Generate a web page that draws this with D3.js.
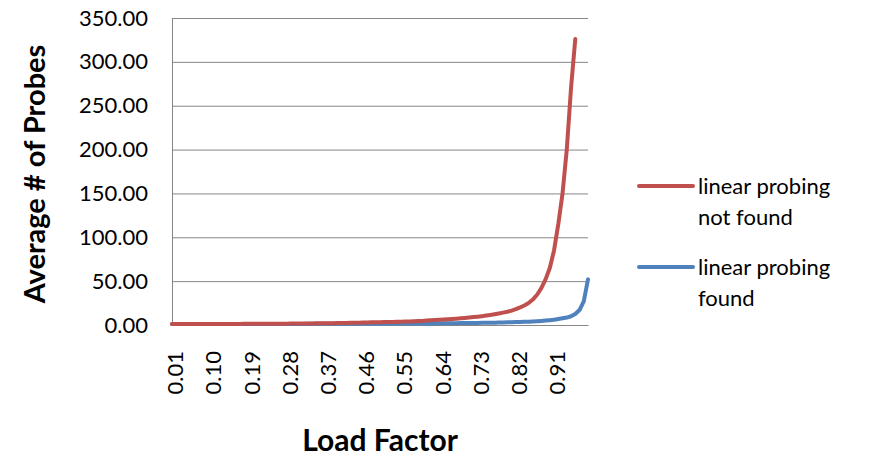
<!DOCTYPE html>
<html>
<head>
<meta charset="utf-8">
<script src="https://cdn.jsdelivr.net/npm/d3@7"></script>
<style>
  body { margin: 0; background: #fff; }
  text { font-family: Lato, "Open Sans", sans-serif; fill: #000; }
</style>
</head>
<body>
<div id="chart"></div>
<script>
// load factors 0.01 .. 0.99
const loadFactors = d3.range(1, 100).map(i => (i / 100).toFixed(2));

// average probes, unsuccessful search (0.01 .. 0.96, no data after)
const notFound = [
    1.0, 1.0, 1.0, 1.0, 1.1, 1.1, 1.1, 1.1, 1.1, 1.1,
    1.1, 1.2, 1.2, 1.2, 1.2, 1.2, 1.2, 1.3, 1.3, 1.3,
    1.3, 1.3, 1.4, 1.4, 1.4, 1.5, 1.5, 1.5, 1.6, 1.6,
    1.7, 1.7, 1.8, 1.8, 1.9, 1.9, 2.0, 2.0, 2.1, 2.2,
    2.3, 2.4, 2.5, 2.6, 2.7, 2.8, 2.9, 3.0, 3.1, 3.2,
    3.3, 3.4, 3.5, 3.7, 3.8, 4.0, 4.1, 4.3, 4.5, 4.7,
    5.0, 5.3, 5.6, 5.9, 6.2, 6.5, 6.9, 7.2, 7.6, 8.0,
    8.5, 9.0, 9.5, 10.1, 10.8, 11.5, 12.3, 13.2, 14.1, 15.1,
    16.4, 18.0, 20.0, 22.3, 25.0, 29.0, 34.5, 42.0, 52.0, 65.0,
    85.0, 115.0, 150.0, 200.0, 270.0, 326.0
];

// average probes, successful search (0.01 .. 0.99)
const found = [
    1.0, 1.0, 1.0, 1.0, 1.0, 1.0, 1.0, 1.0, 1.0, 1.1,
    1.1, 1.1, 1.1, 1.1, 1.1, 1.1, 1.1, 1.1, 1.1, 1.1,
    1.1, 1.1, 1.2, 1.2, 1.2, 1.2, 1.2, 1.2, 1.2, 1.2,
    1.2, 1.2, 1.3, 1.3, 1.3, 1.3, 1.3, 1.3, 1.3, 1.3,
    1.3, 1.4, 1.4, 1.4, 1.4, 1.4, 1.4, 1.5, 1.5, 1.5,
    1.5, 1.5, 1.6, 1.6, 1.6, 1.6, 1.7, 1.7, 1.7, 1.8,
    1.8, 1.8, 1.9, 1.9, 2.0, 2.0, 2.0, 2.1, 2.2, 2.2,
    2.3, 2.3, 2.4, 2.5, 2.6, 2.6, 2.7, 2.8, 2.9, 3.0,
    3.1, 3.3, 3.4, 3.6, 3.8, 4.0, 4.3, 4.6, 5.0, 5.5,
    6.1, 6.8, 7.6, 8.5, 10.0, 12.5, 17.0, 27.0, 52.0
];

const yTicks = [0, 50, 100, 150, 200, 250, 300, 350];
const seriesNames = ["linear probing not found", "linear probing found"];
const seriesColors = ["#C0504D", "#4F81BD"];

const width = 869, height = 458;
const margin = { top: 18, right: 281, bottom: 133, left: 172 };
const plotW = width - margin.left - margin.right;
const plotH = height - margin.top - margin.bottom;

const svg = d3.select("#chart").append("svg")
    .attr("width", width)
    .attr("height", height);

const g = svg.append("g")
    .attr("transform", "translate(" + margin.left + "," + margin.top + ")");

const x = d3.scalePoint().domain(loadFactors).range([0, plotW]);
const y = d3.scaleLinear().domain([0, 350]).range([plotH, 0]);

// gridlines + y labels
const yAxis = d3.axisLeft(y)
    .tickValues(yTicks)
    .tickFormat(d3.format(".2f"))
    .tickSize(-plotW)
    .tickPadding(24);

g.append("g")
    .call(yAxis)
    .call(a => a.select(".domain").attr("stroke", "#868686"))
    .call(a => a.selectAll(".tick line").attr("stroke", "#868686"))
    .call(a => a.selectAll(".tick text")
        .style("font-size", "22px")
        .attr("fill", "#000"));

// x axis (labels every 9th category)
const xAxis = d3.axisBottom(x)
    .tickValues(loadFactors.filter((d, i) => i % 9 === 0))
    .tickSize(0);

g.append("g")
    .attr("transform", "translate(0," + plotH + ")")
    .call(xAxis)
    .call(a => a.select(".domain").attr("stroke", "#868686"))
    .call(a => a.selectAll(".tick text")
        .style("font-size", "22px")
        .attr("fill", "#000")
        .attr("text-anchor", "end")
        .attr("transform", "rotate(-90)")
        .attr("x", -26)
        .attr("y", 3)
        .attr("dy", "0.35em"));

const line = d3.line()
    .defined(d => d.v != null)
    .x(d => x(d.k))
    .y(d => y(d.v));

// found drawn first so the not-found line sits on top where they overlap
[[found, 1], [notFound, 0]].forEach(([vals, s]) => {
    const pts = loadFactors.map((k, i) => ({ k: k, v: vals[i] != null ? vals[i] : null }));
    g.append("path")
        .datum(pts)
        .attr("fill", "none")
        .attr("stroke", seriesColors[s])
        .attr("stroke-width", 4)
        .attr("stroke-linecap", "round")
        .attr("stroke-linejoin", "round")
        .attr("d", line);
});

// axis titles
svg.append("text")
    .attr("transform", "translate(45,174) rotate(-90)")
    .attr("text-anchor", "middle")
    .style("font-size", "29px")
    .style("font-weight", "bold")
    .text("Average # of Probes");

svg.append("text")
    .attr("x", 380)
    .attr("y", 451)
    .attr("text-anchor", "middle")
    .style("font-size", "30px")
    .style("font-weight", "bold")
    .text("Load Factor");

// legend
const legend = svg.append("g");
const legendY = [186, 267];
seriesNames.forEach((name, s) => {
    const words = ["linear probing", name.replace("linear probing ", "")];
    legend.append("line")
        .attr("x1", 639).attr("x2", 693)
        .attr("y1", legendY[s]).attr("y2", legendY[s])
        .attr("stroke", seriesColors[s])
        .attr("stroke-width", 4)
        .attr("stroke-linecap", "round");
    words.forEach((w, j) => {
        legend.append("text")
            .attr("x", 698)
            .attr("y", legendY[s] + 8 + j * 31)
            .style("font-size", "22px")
            .text(w);
    });
});
</script>
</body>
</html>
